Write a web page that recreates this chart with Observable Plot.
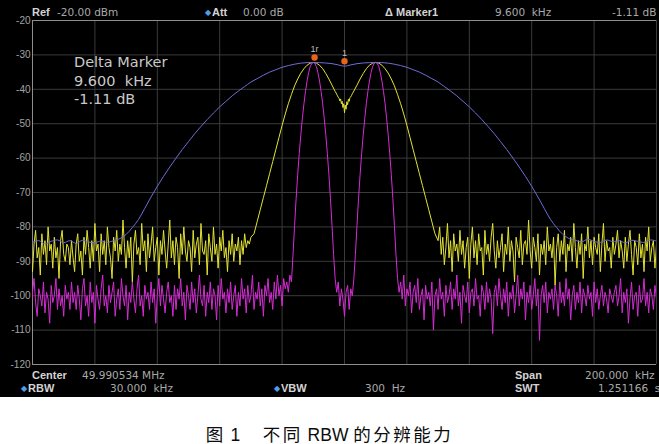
<!DOCTYPE html>
<html>
<head>
<meta charset="utf-8">
<script src="https://cdn.jsdelivr.net/npm/d3@7"></script>
<script src="https://cdn.jsdelivr.net/npm/@observablehq/plot@0.6"></script>
<style>
  html, body { margin: 0; padding: 0; background: #fff; }
  #screen { position: relative; width: 659px; height: 397px; background: #000; overflow: hidden; }
  #screen .t { position: absolute; line-height: 12px; white-space: pre; font-family: "DejaVu Sans", sans-serif; font-size: 10.5px; color: #a9a9a9; }
  #screen .b { font-family: "Liberation Sans", Arial, sans-serif; font-weight: bold; font-size: 11px; color: #d4d4d4; }
  #screen .dia { color: #4f9fe8; font-size: 8px; }
  #marker { position: absolute; left: 74px; top: 53px; font-family: "DejaVu Sans", sans-serif; font-size: 14.5px; line-height: 18.5px; color: #c9c9c9; white-space: pre; }
  #caption { position: absolute; left: 0; top: 421px; width: 659px; text-align: center; font-family: "Liberation Sans", "Noto Sans CJK SC", sans-serif; font-size: 17.5px; color: #0c0c0c; white-space: pre; }
  #caption .cjk { letter-spacing: 2.5px; }
</style>
</head>
<body>
<div id="screen">
  <div id="chart"></div>
  <span class="t b" style="left:32px;top:6px">Ref</span>
  <span class="t" style="left:57px;top:6px">-20.00 dBm</span>
  <span class="t dia" style="left:205px;top:7px">◆</span>
  <span class="t b" style="left:212px;top:6px">Att</span>
  <span class="t" style="left:243px;top:6px">0.00 dB</span>
  <span class="t b" style="left:385px;top:6px">Δ Marker1</span>
  <span class="t" style="left:495px;top:6px">9.600  kHz</span>
  <span class="t" style="left:612px;top:6px">-1.11 dB</span>

  <span class="t b" style="left:32px;top:369px">Center</span>
  <span class="t" style="left:82px;top:369px">49.990534 MHz</span>
  <span class="t dia" style="left:21px;top:383px">◆</span>
  <span class="t b" style="left:28px;top:382px">RBW</span>
  <span class="t" style="left:110px;top:382px">30.000  kHz</span>
  <span class="t dia" style="left:274px;top:383px">◆</span>
  <span class="t b" style="left:281px;top:382px">VBW</span>
  <span class="t" style="left:365px;top:382px">300  Hz</span>
  <span class="t b" style="left:515px;top:369px">Span</span>
  <span class="t" style="left:585px;top:369px">200.000  kHz</span>
  <span class="t b" style="left:515px;top:382px">SWT</span>
  <span class="t" style="left:598px;top:382px">1.251166  s</span>

  <div id="marker">Delta Marker
9.600  kHz
-1.11 dB</div>
</div>
<div id="caption"><span class="cjk">图</span> 1　 <span class="cjk">不同</span> RBW <span class="cjk">的分辨能力</span></div>

<script>
// Spectrum of two tones near 49.990534 MHz, swept with three resolution bandwidths.
// Frequency is the offset from the centre in kHz (span 200 kHz), level in dBm.

const freqGrid = [-100, -80, -60, -40, -20, 0, 20, 40, 60, 80, 100];
const levelTicks = [-120, -110, -100, -90, -80, -70, -60, -50, -40, -30, -20];

// Wide RBW trace (blue): one point every 2 kHz from -100 to +100 kHz
const blueStart = -100, blueStep = 2;
const blueLevels = [
  -84.5, -84.0, -85.0, -84.2, -83.8, -84.6, -84.0, -84.8, -83.9, -84.4,
  -84.6, -84.1, -84.5, -84.0, -83.4, -82.2, -80.2, -77.8, -74.6, -71.3,
  -68.2, -65.3, -62.6, -60.0, -57.5, -55.2, -52.9, -50.8, -48.8, -46.9,
  -45.1, -43.5, -41.9, -40.5, -39.2, -37.9, -36.9, -35.9, -35.0, -34.3,
  -33.6, -33.1, -32.7, -32.4, -32.25, -32.2, -32.25, -32.35, -32.55, -32.9,
  -33.3,
  -32.9, -32.55, -32.35, -32.25, -32.2, -32.25, -32.4, -32.7, -33.1, -33.6,
  -34.3, -35.0, -35.9, -36.9, -37.9, -39.2, -40.5, -41.9, -43.5, -45.1,
  -46.9, -48.8, -50.8, -52.9, -55.2, -57.5, -60.0, -62.6, -65.3, -68.2,
  -71.3, -74.6, -77.8, -80.2, -82.2, -83.4, -83.9, -84.3, -83.6, -84.2,
  -84.5, -83.8, -84.3, -84.0, -84.6, -83.9, -84.2, -84.5, -83.8, -84.1
];

// Medium RBW trace (yellow)
const noiseStep = 0.5;
const yellowNoiseLeft = [ // ends at -30 kHz
  -90, -83, -87, -93, -85, -81, -89, -86, -94, -82, -88, -84, -91, -80, -87, -85, -92, -83, -89, -86,
  -95, -84, -81, -88, -90, -85,
  -86, -91, -84, -89, -93, -85, -82, -90, -87, -94, -83, -88, -81, -86, -92, -84, -90, -79, -87, -85,
  -93, -82, -88, -84, -91, -80, -86, -89, -95, -83, -87, -81, -90, -85, -88, -78, -86, -92, -84, -89,
  -83, -96, -85, -81, -88, -86, -91, -79, -87, -84, -93, -82, -89, -85, -80, -90, -86, -83, -94, -84,
  -88, -81, -87, -92, -85, -78, -89, -84, -91, -83, -86, -95, -82, -88, -80, -87, -90, -84, -86, -93,
  -81, -89, -85, -83, -91, -79, -87, -88, -84, -94, -82, -86, -90, -80, -88, -85, -92, -83, -87, -81,
  -89, -86, -93, -84, -88, -82, -90, -85, -87, -83, -91, -84, -88, -82, -86, -84, -85, -83
];
const yellowSkirtLeft = [ // -29 .. -3 kHz, 1 kHz apart
  -82, -78.5, -75, -71.5, -68, -64.5, -61, -57.5, -54, -50.5, -47.2, -44.2, -41.5, -39,
  -37, -35.3, -34, -33, -32.4, -32.2, -32.4, -33, -34, -35.4, -37, -38.8, -40.6
];
const yellowDip = [ // -2.5 .. +2.5 kHz, 0.25 kHz apart
  -41.4, -41.9, -42.3, -42.6, -43.4, -42.8, -44.2, -43.5, -45.3, -44.2, -46.8,
  -44.6, -45.8, -43.6, -44.5, -42.9, -43.5, -42.4, -42.2, -41.8, -41.3
];
const yellowSkirtRight = [ // +3 .. +29 kHz, 1 kHz apart
  -40.5, -38.8, -37, -35.4, -34, -33, -32.4, -32.2, -32.4, -33, -34, -35.3, -37, -39,
  -41.5, -44.2, -47.2, -50.5, -54, -57.5, -61, -64.5, -68, -71.5, -75, -78.5, -82
];
const yellowNoiseRight = [ // starts at +30 kHz
  -84, -80, -88, -83, -91, -86, -79, -89, -84, -93, -82, -87, -85, -90, -81, -88, -84, -92, -86, -83,
  -95, -85, -80, -89, -84, -91, -82, -87, -86, -94, -81, -88, -85, -90, -83, -79, -87, -92, -84, -89,
  -86, -82, -93, -85, -88, -80, -90, -84, -87, -96, -83, -86, -89, -81, -91, -85, -84, -88, -78, -87,
  -92, -83, -86, -90, -82, -94, -85, -88, -84, -91, -80, -87, -85, -89, -83, -97, -86, -82, -90, -84,
  -88, -81, -93, -85, -87, -83, -90, -79, -86, -92, -84, -88, -82, -95, -85, -87, -80, -89, -84, -91,
  -83, -86, -88, -82, -93, -85, -79, -90, -84, -87, -86, -92, -83, -88, -85, -81, -89, -84,
  -87, -92, -83, -90, -85, -81, -88, -94, -84, -86, -91, -82, -89, -85, -93, -83, -87, -80, -90, -86,
  -84, -92, -85, -88, -83, -90
];

// Narrow RBW trace (magenta)
const magentaNoiseLeft = [ // ends at -17 kHz
  -101, -97, -104, -99, -95, -102, -106, -98, -100, -103, -96, -105, -99, -101, -108, -97, -102, -100, -95, -104,
  -98, -103, -100, -106, -97, -101, -99, -104, -96, -102,
  -99, -104, -97, -101, -107, -98, -95, -103, -100, -106, -96, -102, -99, -108, -97, -101, -104, -98, -94, -103,
  -100, -105, -97, -102, -99, -96, -106, -101, -98, -104, -95, -100, -103, -97, -107, -99, -102, -96, -101, -105,
  -98, -94, -103, -100, -106, -97, -101, -99, -104, -96, -102, -98, -108, -100, -95, -103, -97, -101, -105, -99,
  -96, -102, -100, -106, -97, -104, -98, -101, -95, -103, -99, -107, -97, -100, -104, -96, -102, -98, -105, -100,
  -94, -101, -103, -97, -106, -99, -102, -96, -104, -98, -100, -107, -97, -103, -95, -101, -99, -105, -98, -102,
  -96, -104, -100, -97, -106, -99, -103, -95, -101, -98, -105, -97, -102, -100, -94, -104, -99, -101, -96, -103,
  -98, -106, -97, -100, -95, -102, -99, -104, -96, -101, -94, -100, -97, -103, -95, -98, -96, -99, -94, -96
];
const magentaPeakLeft = [ // -16.5 .. -3.5 kHz, 0.5 kHz apart
  -88, -79.6, -71.8, -64.8, -58.6, -53.2, -48.4, -44.2, -40.6, -37.6, -35.2, -33.4, -32.5, -32.2,
  -32.5, -33.4, -35.2, -37.6, -40.6, -44.2, -48.4, -53.2, -58.6, -64.8, -71.8, -79.6, -88
];
const magentaNoiseCentre = [ // -3 .. +3 kHz, 0.5 kHz apart
  -95, -99, -96, -103, -98, -101, -106, -99, -97, -104, -98, -100, -95
];
const magentaPeakRight = [ // +3.5 .. +16.5 kHz, 0.5 kHz apart
  -88, -79.6, -71.8, -64.8, -58.6, -53.2, -48.4, -44.2, -40.6, -37.6, -35.2, -33.4, -32.5, -32.2,
  -32.5, -33.4, -35.2, -37.6, -40.6, -44.2, -48.4, -53.2, -58.6, -64.8, -71.8, -79.6, -88
];
const magentaNoiseRight = [ // starts at +17 kHz
  -95, -99, -96, -101, -94, -103, -98, -100, -96, -105, -99, -97, -102, -95, -104, -100, -98, -107, -97, -101,
  -99, -103, -96, -110, -100, -98, -104, -95, -101, -99, -106, -97, -102, -100, -96, -104, -98, -101, -94, -103,
  -99, -108, -97, -100, -102, -96, -105, -99, -98, -103, -95, -101, -100, -106, -97, -99, -104, -96, -102, -98,
  -101, -111, -99, -97, -103, -95, -100, -104, -98, -102, -96, -106, -99, -101, -97, -105, -100, -94, -103, -98,
  -101, -96, -107, -99, -102, -97, -104, -100, -95, -103, -98, -113, -100, -97, -102, -96, -105, -99, -101, -98,
  -104, -97, -100, -106, -96, -102, -99, -103, -95, -101, -98, -107, -100, -97, -104, -99, -102, -96, -105, -98,
  -100, -103, -97, -101, -99, -106, -96, -102, -98, -104, -100, -97, -103, -99, -101, -105, -98, -100, -102, -99,
  -97, -103, -100, -95, -105, -99, -102, -98, -108, -101, -96, -104, -100, -99, -106, -97, -102, -101, -95, -103,
  -99, -105, -98, -100, -104, -97, -101, -99, -103, -100
];

// Delta marker pair on the wide RBW trace
const markerFreqs = [-9.6, 0];
const markerLevels = [-32.2, -33.31];
const markerNames = ["1r", "1"];

// helpers to lay out a run of samples on the frequency axis
const runFrom = (values, start, step) => values.map((level, i) => ({f: start + i * step, level}));
const runTo = (values, end, step) => values.map((level, i) => ({f: end - (values.length - 1 - i) * step, level}));

const blue = runFrom(blueLevels, blueStart, blueStep);
const yellow = [
  ...runTo(yellowNoiseLeft, -30, noiseStep),
  ...runFrom(yellowSkirtLeft, -29, 1),
  ...runFrom(yellowDip, -2.5, 0.25),
  ...runFrom(yellowSkirtRight, 3, 1),
  ...runFrom(yellowNoiseRight, 30, noiseStep)
];
const magenta = [
  ...runTo(magentaNoiseLeft, -17, noiseStep),
  ...runFrom(magentaPeakLeft, -16.5, 0.5),
  ...runFrom(magentaNoiseCentre, -3, 0.5),
  ...runFrom(magentaPeakRight, 3.5, 0.5),
  ...runFrom(magentaNoiseRight, 17, noiseStep)
];
const markers = markerFreqs.map((f, i) => ({f, level: markerLevels[i], name: markerNames[i]}));

const chart = Plot.plot({
  width: 659,
  height: 397,
  marginTop: 20,
  marginBottom: 33,
  marginLeft: 32,
  marginRight: 3,
  style: {background: "#000", color: "#a3a3a3", fontFamily: "Liberation Sans, Arial, sans-serif"},
  x: {domain: [-100, 100], axis: null},
  y: {domain: [-120, -20], label: null},
  marks: [
    Plot.ruleX(freqGrid, {stroke: "#3b3b3b"}),
    Plot.ruleY(levelTicks, {stroke: "#3b3b3b"}),
    Plot.ruleX([-100], {stroke: "#8e8e8e"}),
    Plot.ruleY([-20, -120], {stroke: "#8e8e8e"}),
    Plot.axisY(levelTicks, {tickSize: 0, tickPadding: 2, fontSize: 10, label: null, tickFormat: d => `${d}`}),
    Plot.line(yellow, {x: "f", y: "level", stroke: "#e3e334", strokeWidth: 1, clip: true}),
    Plot.line(magenta, {x: "f", y: "level", stroke: "#d42cd4", strokeWidth: 1, clip: true}),
    Plot.line(blue, {x: "f", y: "level", stroke: "#6d6dd6", strokeWidth: 1, curve: "catmull-rom", clip: true}),
    Plot.dot(markers, {x: "f", y: "level", dy: -5, r: 3.2, fill: "#e8641e", stroke: null}),
    Plot.text(markers, {x: "f", y: "level", text: "name", dy: -13, fill: "#bdbdbd", fontSize: 9})
  ]
});
document.getElementById("chart").append(chart);
</script>
</body>
</html>
